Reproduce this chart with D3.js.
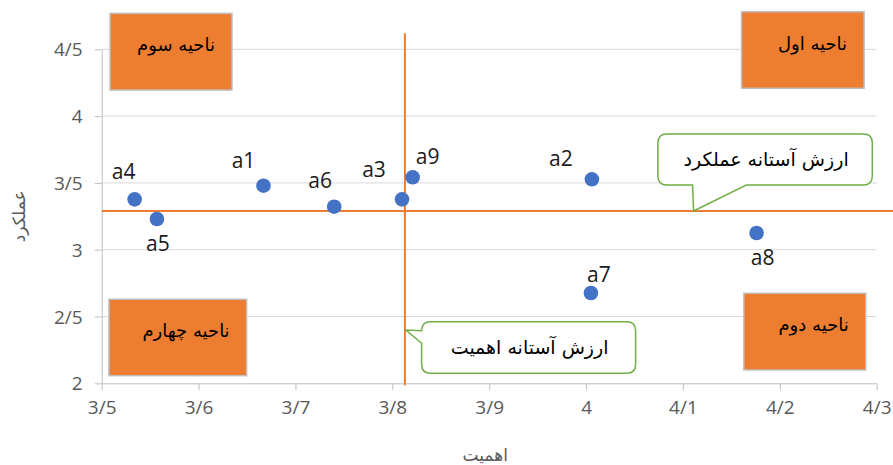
<html>
<head>
<meta charset="utf-8">
<style>
    body { margin: 0; background: #fff; }
    .tick text { font-family: "Open Sans", sans-serif; font-size: 19px; fill: #595959; }
    .fa { font-family: "DejaVu Sans", sans-serif; }
</style>
</head>
<body>
<svg id="container" width="893" height="465"></svg>
<script src="https://cdn.jsdelivr.net/npm/d3@7"></script>
<script>
    // data
    const pointNames = ["a1", "a2", "a3", "a4", "a5", "a6", "a7", "a8", "a9"];
    const importance = [3.667, 4.006, 3.810, 3.534, 3.557, 3.740, 4.005, 4.176, 3.821];
    const performance = [3.479, 3.527, 3.377, 3.377, 3.230, 3.322, 2.676, 3.125, 3.542];

    const importanceThreshold = 3.813;
    const performanceThreshold = 3.29;

    const xTicks = [3.5, 3.6, 3.7, 3.8, 3.9, 4.0, 4.1, 4.2, 4.3];
    const xTickLabels = ["3/5", "3/6", "3/7", "3/8", "3/9", "4", "4/1", "4/2", "4/3"];
    const yTicks = [2, 2.5, 3, 3.5, 4, 4.5];
    const yTickLabels = ["2", "2/5", "3", "3/5", "4", "4/5"];

    const quadrantNames = ["ناحیه اول", "ناحیه دوم", "ناحیه سوم", "ناحیه چهارم"];
    const xTitle = "اهمیت";
    const yTitle = "عملکرد";
    const performanceNote = "ارزش آستانه عملکرد";
    const importanceNote = "ارزش آستانه اهمیت";

    // label nudges (px) relative to each point
    const labelNudge = [[-20, -18], [-31, -13], [-28, -22], [-11, -20], [1, 32], [-14, -19], [8, -11], [6, 32], [15, -13]];
    // quadrant boxes in data units: [x0, x1, yTop, yBottom]
    const quadrantBoxes = [
        [4.1605, 4.287, 4.781, 4.208],
        [4.1629, 4.2887, 2.674, 2.0996],
        [3.5086, 3.6345, 4.769, 4.195],
        [3.5075, 3.6496, 2.629, 2.057]
    ];

    const svg = d3.select("#container");
    const margin = { left: 101.7, top: 49.3, right: 16.3, bottom: 81.7 };
    const width = 893, height = 465;

    const x = d3.scaleLinear().domain([3.5, 4.3]).range([margin.left, width - margin.right]);
    const y = d3.scaleLinear().domain([2, 4.5]).range([height - margin.bottom, margin.top]);

    // gridlines
    svg.append("g")
        .selectAll("line")
        .data(yTicks.slice(1))
        .join("line")
        .attr("x1", x(3.5)).attr("x2", x(4.3))
        .attr("y1", d => y(d)).attr("y2", d => y(d))
        .attr("stroke", "#d9d9d9").attr("stroke-width", 1);

    // axes
    const xAxis = svg.append("g")
        .attr("transform", `translate(0,${y(2)})`)
        .call(d3.axisBottom(x).tickValues(xTicks).tickFormat((d, i) => xTickLabels[i]).tickSize(7).tickSizeOuter(0).tickPadding(10));
    const yAxis = svg.append("g")
        .attr("transform", `translate(${x(3.5)},0)`)
        .call(d3.axisLeft(y).tickValues(yTicks).tickFormat((d, i) => yTickLabels[i]).tickSize(7).tickSizeOuter(0).tickPadding(12));
    [xAxis, yAxis].forEach(a => {
        a.select(".domain").attr("stroke", "#bfbfbf");
        a.selectAll(".tick line").attr("stroke", "#bfbfbf");
    });
    yAxis.selectAll(".tick text").attr("dy", "0.35em");

    // axis titles
    svg.append("text").attr("class", "fa")
        .attr("x", (x(3.5) + x(4.3)) / 2 - 4).attr("y", 461)
        .attr("text-anchor", "middle").attr("font-size", 17).attr("fill", "#595959")
        .text(xTitle);
    svg.append("text").attr("class", "fa")
        .attr("transform", `translate(25,${(y(2) + y(4.5)) / 2}) rotate(-90)`)
        .attr("text-anchor", "middle").attr("font-size", 17).attr("fill", "#595959")
        .text(yTitle);

    // threshold lines
    svg.append("line")
        .attr("x1", x(3.5)).attr("x2", width)
        .attr("y1", y(performanceThreshold)).attr("y2", y(performanceThreshold))
        .attr("stroke", "#ed7d31").attr("stroke-width", 2);
    svg.append("line")
        .attr("x1", x(importanceThreshold)).attr("x2", x(importanceThreshold))
        .attr("y1", y(4.62)).attr("y2", y(2) + 2)
        .attr("stroke", "#ed7d31").attr("stroke-width", 2);

    // points
    const pts = pointNames.map((n, i) => ({ name: n, x: importance[i], y: performance[i], nudge: labelNudge[i] }));
    svg.append("g")
        .selectAll("circle")
        .data(pts)
        .join("circle")
        .attr("cx", d => x(d.x)).attr("cy", d => y(d.y))
        .attr("r", 7.3)
        .attr("fill", "#4472c4");
    svg.append("g")
        .selectAll("text")
        .data(pts)
        .join("text")
        .attr("x", d => x(d.x) + d.nudge[0]).attr("y", d => y(d.y) + d.nudge[1])
        .attr("text-anchor", "middle")
        .attr("font-family", "Open Sans, sans-serif").attr("font-size", 21)
        .attr("fill", "#1a1a1a")
        .text(d => d.name);

    // quadrant boxes
    const qb = svg.append("g")
        .selectAll("g")
        .data(quadrantNames.map((n, i) => ({ name: n, b: quadrantBoxes[i] })))
        .join("g");
    qb.append("rect")
        .attr("x", d => x(d.b[0])).attr("y", d => y(d.b[2]))
        .attr("width", d => x(d.b[1]) - x(d.b[0])).attr("height", d => y(d.b[3]) - y(d.b[2]))
        .attr("fill", "#ed7d31").attr("stroke", "#bfbfbf").attr("stroke-width", 1.5);
    qb.append("text").attr("class", "fa")
        .attr("x", d => x(d.b[1]) - 17).attr("y", d => y(d.b[2]) + 38)
        .attr("text-anchor", "end").attr("font-size", 18).attr("fill", "#000")
        .text(d => d.name);

    // callouts
    function callout(tx, ty, box, base, side, label) {
        // box = [dx0, dx1, dy0, dy1] from the tip, base = pointer base offsets along the edge
        const [x0, x1, y0, y1] = [tx + box[0], tx + box[1], ty + box[2], ty + box[3]];
        const r = 9;
        const p = d3.path();
        p.moveTo(x0 + r, y0);
        p.lineTo(x1 - r, y0);
        p.quadraticCurveTo(x1, y0, x1, y0 + r);
        p.lineTo(x1, y1 - r);
        p.quadraticCurveTo(x1, y1, x1 - r, y1);
        if (side === "bottom") {
            p.lineTo(tx + base[1], y1);
            p.lineTo(tx, ty);
            p.lineTo(tx + base[0], y1);
        }
        p.lineTo(x0 + r, y1);
        p.quadraticCurveTo(x0, y1, x0, y1 - r);
        if (side === "left") {
            p.lineTo(x0, ty + base[1]);
            p.lineTo(tx, ty);
            p.lineTo(x0, ty + base[0]);
        }
        p.lineTo(x0, y0 + r);
        p.quadraticCurveTo(x0, y0, x0 + r, y0);
        p.closePath();
        svg.append("path").attr("d", p.toString())
            .attr("fill", "#fff").attr("stroke", "#70ad47").attr("stroke-width", 1.5);
        svg.append("text").attr("class", "fa")
            .attr("x", (x0 + x1) / 2 + 1).attr("y", (y0 + y1) / 2 + 7)
            .attr("text-anchor", "middle").attr("font-size", 19).attr("fill", "#000")
            .text(label);
    }
    callout(x(4.111), y(performanceThreshold), [-35.7, 178.7, -77, -26], [-1, 52.7], "bottom", performanceNote);
    callout(x(importanceThreshold) + 1, y(2.399), [15.7, 229.7, -8.3, 43.3], [0.7, 13.3], "left", importanceNote);
</script>
</body>
</html>
